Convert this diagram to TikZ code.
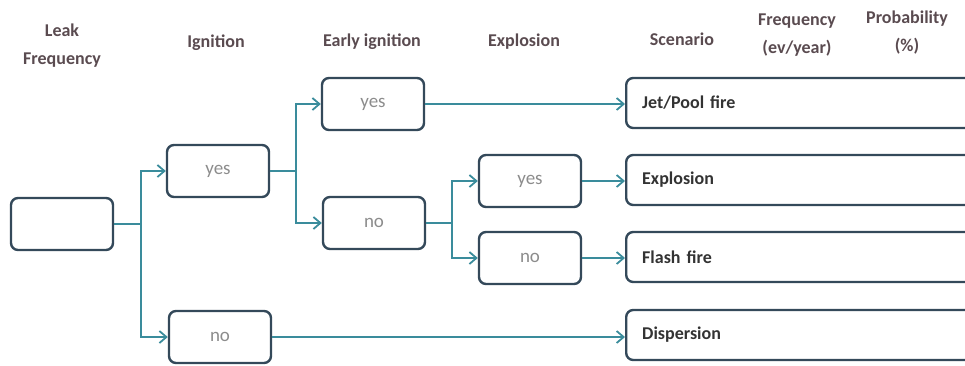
\documentclass[tikz,border=0pt]{standalone}
\usepackage{fontspec}
\setmainfont{Carlito}
\usetikzlibrary{positioning,arrows.meta}
\definecolor{boxline}{HTML}{34495A}
\definecolor{linkcol}{HTML}{3A8C9C}
\definecolor{headcol}{HTML}{5A4B50}
\definecolor{optcol}{HTML}{8C8C8C}

\begin{document}
\begin{tikzpicture}[
  x=1pt, y=-1pt,
  every node/.style={font=\fontsize{19}{22}\selectfont},
  head/.style={font=\fontsize{18}{28}\selectfont\bfseries, text=headcol, align=center},
  choice/.style={draw=boxline, line width=2.4pt, rounded corners=7pt, minimum width=102pt, minimum height=52pt, text=optcol},
  scen/.style={draw=boxline, line width=2.4pt, rounded corners=7pt, minimum height=50pt, text width=380pt, align=left, inner xsep=16pt, anchor=west, font=\fontsize{18}{22}\selectfont\bfseries, text=black!80},
  arrow/.style={-{Straight Barb[length=7pt, width=12pt]}, linkcol, line width=1.8pt}
]
\clip (0,0) rectangle (965,365);

% Headers
\node[head] (hleak) at (62,46) {Leak\\Frequency};
\node[head] (hign) at (216,43) {Ignition};
\node[head] (hearly) at (372,42) {Early ignition};
\node[head] (hexpl) at (524,42) {Explosion};
\node[head] (hscen) at (682,39) {Scenario};
\node[head] (hfreq) at (797,35) {Frequency\\(ev/year)};
\node[head] (hprob) at (907,33) {Probability\\(\%)};

% Nodes
\node[choice] (leak) at (62,224) {};
\node[choice] (ignyes) at (218,171) {yes};
\node[choice] (ignno) at (220,337) {no};
\node[choice] (earlyyes) at (373,104) {yes};
\node[choice] (earlyno) at (374,223) {no};
\node[choice] (explyes) at (530,181) {yes};
\node[choice] (explno) at (530,258) {no};

\node[scen] (jet) at (625,103) {Jet/Pool fire};
\node[scen] (expl) at (625,180) {Explosion};
\node[scen] (flash) at (625,257) {Flash fire};
\node[scen] (disp) at (625,335) {Dispersion};

% Arrows
\draw[arrow] (leak.east) -- ++(27,0) |- (ignyes.west);
\draw[arrow] (leak.east) -- ++(27,0) |- (ignno.west);
\draw[arrow] (ignyes.east) -- ++(26,0) |- (earlyyes.west);
\draw[arrow] (ignyes.east) -- ++(26,0) |- (earlyno.west);
\draw[arrow] (earlyno.east) -- ++(26,0) |- (explyes.west);
\draw[arrow] (earlyno.east) -- ++(26,0) |- (explno.west);

\draw[arrow] (earlyyes.east) -- (earlyyes.east -| jet.west);
\draw[arrow] (explyes.east) -- (explyes.east -| expl.west);
\draw[arrow] (explno.east) -- (explno.east -| flash.west);
\draw[arrow] (ignno.east) -- (ignno.east -| disp.west);
\end{tikzpicture}
\end{document}
